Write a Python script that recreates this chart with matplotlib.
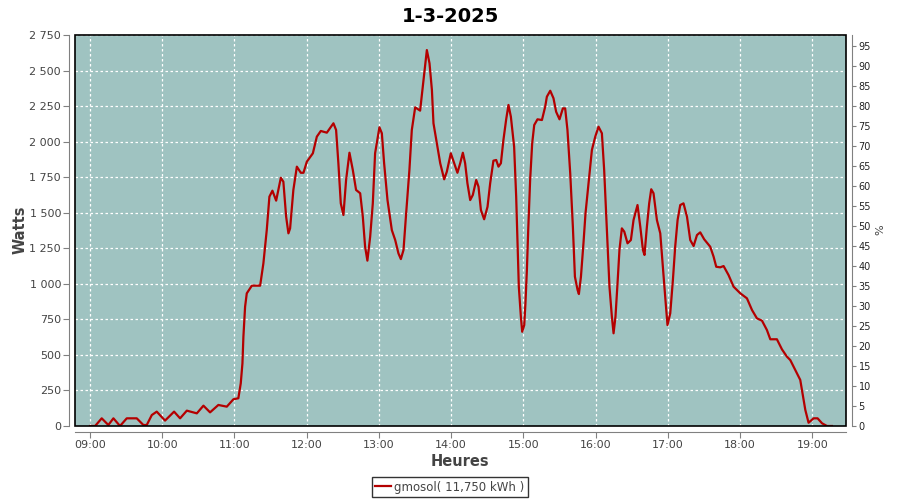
import matplotlib.pyplot as plt
from matplotlib.patches import Rectangle
from matplotlib.ticker import FuncFormatter

# minutes after 09:00 and power in watts
minutes = [0, 4.2, 9.7, 15.2, 19.4, 24.9, 30.5, 38.8, 44.3, 47.1, 51.3, 55.4, 62.3, 69.8,
           74.8, 80.4, 88.7, 94.2, 99.7, 106.6, 113.6, 119.1, 123.2, 125.2, 126.6, 127.4,
           128.8, 130.2, 134.4, 141.3, 144.0, 146.8, 149.0, 151.5, 154.6, 158.5, 160.6,
           162.9, 164.8, 166.2, 168.9, 171.8, 175.1, 177.3, 180.1, 185.1, 188.4, 191.7,
           196.7, 202.2, 204.4, 206.3, 208.3, 210.5, 212.7, 215.5, 218.3, 221.0, 224.4,
           226.6, 228.5, 230.4, 232.7, 234.9, 236.8, 240.4, 242.4, 244.3, 247.1, 250.7,
           253.5, 256.2, 258.2, 260.4, 262.6, 265.3, 267.3, 270.1, 274.2, 277.0, 279.8,
           282.0, 284.0, 285.3, 288.1, 290.9, 294.2, 296.4, 299.7, 302.5, 305.2, 307.5,
           309.7, 311.6, 313.5, 315.8, 318.0, 320.8, 322.7, 324.7, 327.4, 330.2, 332.4,
           335.1, 337.4, 339.3, 341.3, 343.4, 345.7, 347.6, 349.6, 352.3, 354.0, 355.1,
           356.2, 357.9, 359.0, 360.7, 361.7, 362.9, 364.0, 365.6, 367.3, 369.0, 371.7,
           375.4, 378.1, 379.5, 382.3, 385.0, 387.2, 390.0, 392.8, 394.7, 396.6, 398.9,
           401.1, 402.8, 405.0, 406.1, 407.8, 409.9, 411.6, 414.4, 416.9, 419.7, 422.4,
           425.2, 427.1, 429.4, 431.5, 433.5, 434.9, 436.5, 438.2, 439.8, 441.8, 443.8,
           446.5, 449.3, 451.5, 454.8, 457.1, 459.3, 460.6, 462.6, 464.5, 466.2, 468.1,
           470.9, 473.7, 475.6, 477.8, 479.7, 482.0, 484.2, 486.1, 488.1, 490.3, 493.0,
           495.9, 498.6, 501.4, 504.2, 506.9, 510.2, 515.2, 518.0, 520.2, 523.5, 526.3,
           530.4, 534.6, 540.2, 545.7, 549.9, 554.0, 558.2, 562.3, 565.1, 570.6, 574.8,
           578.9, 581.7, 585.9, 590.0, 592.3, 594.2, 596.9, 601.1, 604.4, 608.1, 612.2,
           616.3]
watts = [0, 0, 54, 7, 54, 0, 54, 54, 7, 7, 77, 101, 38, 101,
         54, 108, 89, 143, 96, 148, 136, 188, 195, 300, 441, 628,
         839, 933, 987, 987, 1144, 1378, 1613, 1655, 1585, 1746, 1718,
         1472, 1355, 1390, 1660, 1824, 1781, 1781, 1859, 1918, 2035, 2075,
         2063, 2129, 2082, 1848, 1566, 1484, 1730, 1922, 1800, 1660, 1637,
         1472, 1261, 1163, 1331, 1566, 1918, 2101, 2059, 1848, 1589, 1378,
         1308, 1214, 1174, 1238, 1496, 1800, 2082, 2241, 2218, 2433, 2644,
         2551, 2363, 2129, 1988, 1848, 1735, 1789, 1918, 1848, 1781, 1848,
         1922, 1848, 1707, 1589, 1625, 1730, 1683, 1519, 1454, 1542, 1707,
         1866, 1871, 1824, 1848, 2011, 2157, 2258, 2175, 1964, 1613, 1308,
         980, 769, 663, 710, 863, 1097, 1378, 1730, 1988, 2117, 2157,
         2152, 2246, 2316, 2358, 2305, 2210, 2157, 2234, 2234, 2082, 1777,
         1402, 1050, 957, 928, 1050, 1285, 1496, 1730, 1941, 2035, 2105,
         2059, 1800, 1378, 980, 769, 652, 769, 1004, 1238, 1390, 1367,
         1285, 1308, 1449, 1554, 1402, 1238, 1203, 1402, 1566, 1665, 1637,
         1449, 1355, 1144, 909, 710, 793, 1027, 1261, 1449, 1554, 1566,
         1472, 1308, 1266, 1343, 1362, 1313, 1261, 1191, 1120, 1116, 1125,
         1062, 980, 933, 898, 816, 757, 741, 675, 610, 610, 539,
         488, 464, 394, 324, 206, 113, 23, 54, 54, 19, 0,
         0]
hours = list(range(9, 20))
hour_labels = ['%02d:00' % h for h in hours]
series_label = 'gmosol( 11,750 kWh )'
title = '1-3-2025'

bg = '#9fc3c1'
red = '#b40000'
grey = '#808080'
txt = '#444444'

fig = plt.figure(figsize=(9, 5), dpi=100)
ax = fig.add_axes([75/900, 74/500, 771/900, 391/500])
ax.set_facecolor(bg)

x = [9 + m/60 for m in minutes]
line, = ax.plot(x, watts, color=red, lw=1.6, label=series_label, zorder=3)

ax.set_xlim(9 - 12.5/60, 9 + 628/60)
ax.set_ylim(0, 2750)
ax.set_xticks(hours)
ax.set_xticklabels(hour_labels)
ax.set_yticks(range(0, 2751, 250))
ax.yaxis.set_major_formatter(FuncFormatter(lambda v, p: '{:,}'.format(int(v)).replace(',', ' ')))
ax.grid(True, color='white', linestyle=(0, (2, 2)), lw=0.9)

for s in ['top', 'right']:
    ax.spines[s].set_visible(False)
for s in ['left', 'bottom']:
    ax.spines[s].set_position(('outward', 4))
    ax.spines[s].set_color(grey)
ax.tick_params(colors=grey, labelcolor=txt, labelsize=8, length=4, width=0.8, pad=2)
ax.add_patch(Rectangle((0, 0), 1, 1, transform=ax.transAxes, fill=False,
                       ec='black', lw=1.2, zorder=5, clip_on=False))

fig.text(460/900, 1 - 461/500, 'Heures', fontsize=10.5, fontweight='bold', color=txt,
         ha='center', va='center')
fig.text(20/900, 1 - 230/500, 'Watts', fontsize=10.5, fontweight='bold', color=txt,
         ha='center', va='center', rotation=90)

ax2 = ax.twinx()
ax2.set_ylim(0, 97.75)
ax2.set_yticks(range(0, 96, 5))
for s in ['top', 'left', 'bottom']:
    ax2.spines[s].set_visible(False)
ax2.spines['right'].set_position(('outward', 4))
ax2.spines['right'].set_color(grey)
ax2.tick_params(colors=grey, labelcolor='#222222', labelsize=7, length=3, width=0.8, pad=2)
fig.text(880/900, 1 - 230/500, '%', fontsize=8, color=txt,
         ha='center', va='center', rotation=90)

fig.suptitle(title, fontsize=14, fontweight='bold', y=0.985)

leg = fig.legend(handles=[line], loc='center', bbox_to_anchor=(450/900, 1 - 487/500),
                 fontsize=8.5, frameon=True, fancybox=False, handlelength=1.3,
                 handletextpad=0.3, borderpad=0.3)
leg.get_frame().set_edgecolor('black')
leg.get_frame().set_linewidth(1)
for t in leg.get_texts():
    t.set_color(txt)

fig.savefig('out.png', dpi=100)
